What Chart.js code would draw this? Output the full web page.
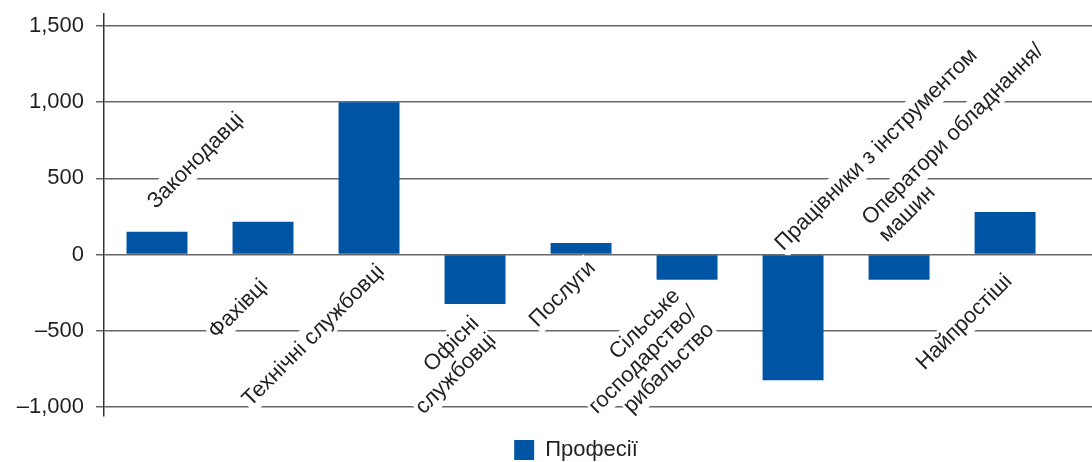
<!DOCTYPE html>
<html>
<head>
<meta charset="utf-8">
<script src="https://cdn.jsdelivr.net/npm/chart.js@4.4.1/dist/chart.umd.min.js"></script>
<style>
  html, body { margin: 0; padding: 0; background: #ffffff; }
  #wrap { width: 1092px; height: 462px; }
</style>
</head>
<body>
<div id="wrap"><canvas id="chart" width="1092" height="462"></canvas></div>
<script>
// Occupational groups (multi-line names are split into lines)
const categories = [
  ['Законодавці'],
  ['Фахівці'],
  ['Технічні службовці'],
  ['Офісні', 'службовці'],
  ['Послуги'],
  ['Сільське', 'господарство/', 'рибальство'],
  ['Працівники з інструментом'],
  ['Оператори обладнання/', 'машин'],
  ['Найпростіші']
];

// Change in employment for each group
const changes = [150, 215, 1000, -325, 75, -165, -825, -165, 280];

// Value-axis ticks
const yTicks = [-1000, -500, 0, 500, 1000, 1500];

const seriesName = 'Професії';

const TEXT = '#231f20';
const BLUE = '#0054a4';
const FONT = "'Liberation Sans', Arial, Helvetica, sans-serif";

function formatTick(v) {
  const s = Math.abs(v).toLocaleString('en-US');
  return v < 0 ? '\u2013' + s : s;
}

// Rotated category names, each anchored in data space near its bar
const categoryLabels = {
  id: 'categoryLabels',
  beforeDatasetsDraw(chart, args, opts) {
    const { ctx } = chart;
    const xs = chart.scales.x, ys = chart.scales.y;
    ctx.save();
    ctx.font = opts.size + 'px ' + FONT;
    categories.forEach((lines, i) => {
      const p = opts.placement[i];
      const px = xs.getPixelForValue(i + p.dx);
      const py = ys.getPixelForValue(p.y);
      ctx.save();
      ctx.translate(px, py);
      ctx.rotate(-Math.PI / 4);
      const n = lines.length;
      const rows = lines.map((t, k) => {
        const w = ctx.measureText(t).width;
        const v = (k - (n - 1) / 2) * opts.lineHeight;
        const u0 = p.align === 'left' ? 0 : (p.align === 'right' ? -w : -w / 2);
        return { t, w, v, u0 };
      });
      ctx.fillStyle = '#ffffff';
      rows.forEach(r => ctx.fillRect(r.u0 - opts.padX, r.v - opts.boxH / 2 + 1, r.w + 2 * opts.padX, opts.boxH));
      ctx.fillStyle = TEXT;
      ctx.textAlign = 'left';
      ctx.textBaseline = 'middle';
      rows.forEach(r => ctx.fillText(r.t, r.u0, r.v + 1));
      ctx.restore();
    });
    ctx.restore();
  }
};

// Moves the legend box after layout
const legendNudge = {
  id: 'legendNudge',
  afterLayout(chart, args, opts) {
    const l = chart.legend;
    if (!l) return;
    l.left += opts.dx; l.right += opts.dx;
    l.top += opts.dy; l.bottom += opts.dy;
  }
};

new Chart(document.getElementById('chart'), {
  type: 'bar',
  data: {
    datasets: [{
      label: seriesName,
      data: changes.map((v, i) => ({ x: i, y: v })),
      backgroundColor: BLUE,
      borderWidth: 0,
      categoryPercentage: 1,
      barPercentage: 0.575
    }]
  },
  options: {
    responsive: false,
    animation: false,
    devicePixelRatio: 1,
    layout: { padding: { top: 14, left: 0, right: 0, bottom: 0 } },
    scales: {
      x: {
        type: 'linear',
        min: -0.5,
        max: 8.82,
        offset: false,
        display: false,
        afterBuildTicks: s => { s.ticks = categories.map((_, i) => ({ value: i })); }
      },
      y: {
        min: -1060,
        max: 1579,
        afterBuildTicks: s => { s.ticks = yTicks.map(v => ({ value: v })); },
        afterFit: s => { s.width = 104; s.paddingTop = 0; s.paddingBottom = 0; },
        grid: { color: '#676767', lineWidth: 1.5, tickLength: 8 },
        border: { color: '#333333', width: 1.5 },
        ticks: {
          font: { family: FONT, size: 22 },
          color: TEXT,
          padding: 12,
          callback: v => formatTick(v)
        }
      }
    },
    plugins: {
      legend: {
        position: 'bottom',
        labels: {
          boxWidth: 20,
          boxHeight: 20,
          padding: 14,
          color: TEXT,
          font: { family: FONT, size: 22 }
        }
      },
      tooltip: { enabled: false },
      legendNudge: { dx: 30, dy: 9 },
      categoryLabels: {
        size: 22,
        lineHeight: 24,
        padX: 1,
        boxH: 27,
        placement: [
          { dx: 0.36, y: 620, align: 'center' },
          { dx: -0.24, y: -354, align: 'center' },
          { dx: -0.53, y: -528, align: 'center' },
          { dx: 0.08, y: -482, align: 'right' },
          { dx: -0.18, y: -256, align: 'center' },
          { dx: 0.055, y: -356, align: 'right' },
          { dx: 0.78, y: 693, align: 'center' },
          { dx: -0.24, y: 165, align: 'left' },
          { dx: -0.39, y: -440, align: 'center' }
        ]
      }
    }
  },
  plugins: [categoryLabels, legendNudge]
});
</script>
</body>
</html>
